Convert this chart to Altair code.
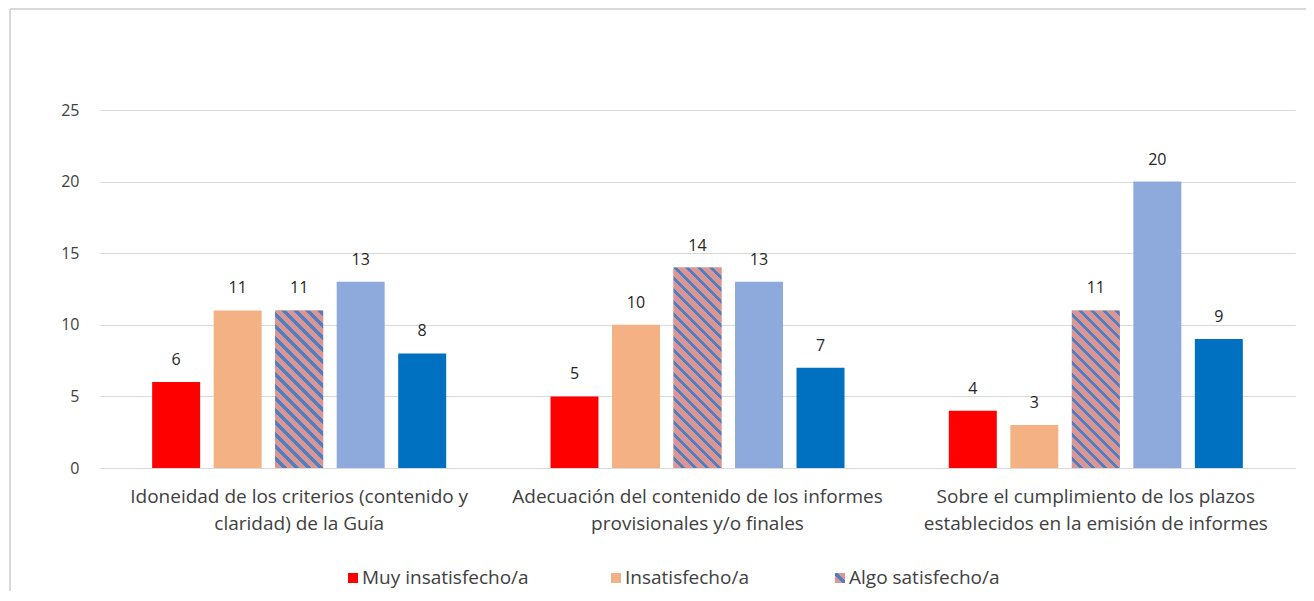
import altair as alt
import pandas as pd

# ---------------- data ----------------
categorias = [
    "Idoneidad de los criterios (contenido y\nclaridad) de la Guía",
    "Adecuación del contenido de los informes\nprovisionales y/o finales",
    "Sobre el cumplimiento de los plazos\nestablecidos en la emisión de informes",
]
series = ["Muy insatisfecho/a", "Insatisfecho/a", "Algo satisfecho/a",
          "Bastante satisfecho/a", "Muy satisfecho/a"]
muy_insatisfecho = [6, 5, 4]
insatisfecho = [11, 10, 3]
algo_satisfecho = [11, 14, 11]
bastante_satisfecho = [13, 13, 20]
muy_satisfecho = [8, 7, 9]
ticks_y = [0, 5, 10, 15, 20, 25]

colores = ["#FF0000", "#F4B183", "#DA9694", "#8EA9DB", "#0070C0"]
rosa = "#DA9694"
azul_raya = "#4F7FC0"

valores = [muy_insatisfecho, insatisfecho, algo_satisfecho, bastante_satisfecho, muy_satisfecho]
rows = []
for s, vals in zip(series, valores):
    for c, v in zip(categorias, vals):
        rows.append({"cat": c, "serie": s, "valor": v})
df = pd.DataFrame(rows)

# ---------------- layout ----------------
W, H = 1195, 358
YMAX = 25
PX = H / YMAX
band = W / len(categorias)
pi_off, po_off = 0.22, 0.848
step_off = band / (len(series) - pi_off + 2 * po_off)
BAR_W = step_off * (1 - pi_off)


def rayado(h_px, w_px=BAR_W, periodo=12.0, frac=0.36):
    r = h_px / w_px
    t = (w_px + h_px) / (w_px * (1 + r * r))
    total = w_px + h_px
    stops = []
    s = 0.0
    while s < total:
        o0 = s / total
        o1 = min((s + periodo * (1 - frac)) / total, 1.0)
        o2 = min((s + periodo) / total, 1.0)
        stops += [{"offset": o0, "color": rosa}, {"offset": o1, "color": rosa},
                  {"offset": o1, "color": azul_raya}, {"offset": o2, "color": azul_raya}]
        s += periodo
    return {"gradient": "linear", "x1": 0, "y1": 1, "x2": t, "y2": 1 - t * r, "stops": stops}


simbolo_rayado = {"gradient": "linear", "x1": 0, "y1": 1, "x2": 1, "y2": 0,
                  "stops": [{"offset": 0, "color": rosa}, {"offset": 0.36, "color": rosa},
                            {"offset": 0.36, "color": azul_raya}, {"offset": 0.64, "color": azul_raya},
                            {"offset": 0.64, "color": rosa}, {"offset": 1, "color": rosa}]}

FONT = "Open Sans"
GRIS = "#404040"

x_enc = alt.X("cat:N", sort=categorias,
              scale=alt.Scale(paddingInner=0, paddingOuter=0),
              axis=alt.Axis(title=None, labelAngle=0, ticks=False, domain=False,
                            labelExpr="split(datum.label, '\\n')",
                            labelFont=FONT, labelFontSize=19, labelColor=GRIS,
                            labelPadding=19, labelLineHeight=27, labelLimit=600))
xo_enc = alt.XOffset("serie:N", sort=series,
                     scale=alt.Scale(paddingInner=pi_off, paddingOuter=po_off))
y_enc = alt.Y("valor:Q", scale=alt.Scale(domain=[0, YMAX], nice=False),
              axis=alt.Axis(values=ticks_y, title=None, domain=False, ticks=False,
                            gridColor="#D9D9D9", gridWidth=1.2,
                            labelFont=FONT, labelFontSize=16, labelColor=GRIS,
                            labelPadding=21))

base = alt.Chart(df).mark_bar().encode(
    x=x_enc, xOffset=xo_enc, y=y_enc,
    color=alt.Color("serie:N", scale=alt.Scale(domain=series, range=colores), legend=None),
)

capas = [base]
for c, v in zip(categorias, algo_satisfecho):
    capas.append(
        alt.Chart(df).transform_filter(
            (alt.datum.serie == series[2]) & (alt.datum.cat == c)
        ).mark_bar().encode(x=x_enc, xOffset=xo_enc, y=y_enc,
                            fill=alt.value(rayado(v * PX)))
    )

etiquetas = alt.Chart(df).mark_text(
    baseline="middle", dy=-22, font=FONT, fontSize=16, color="#262626"
).encode(x=x_enc, xOffset=xo_enc, y=y_enc, text="valor:Q")
capas.append(etiquetas)

uno = pd.DataFrame({"k": [0]})

# manual legend (first row of the legend, as visible in the reference)
leg_x = [248, 511, 735]
leg_y = 468
leg_fills = [colores[0], colores[1], simbolo_rayado]
for lx, nombre, f in zip(leg_x, series[:3], leg_fills):
    capas.append(alt.Chart(uno).mark_rect().encode(
        x=alt.value(lx), x2=alt.value(lx + 10),
        y=alt.value(leg_y - 5), y2=alt.value(leg_y + 5),
        fill=alt.value(f)))
    capas.append(alt.Chart(uno).mark_text(
        align="left", baseline="middle", font=FONT, fontSize=19, color=GRIS
    ).encode(x=alt.value(lx + 14), y=alt.value(leg_y), text=alt.value(nombre)))

marco = alt.Chart(uno).mark_rule(color="#D9D9D9", strokeWidth=2)
capas.append(marco.encode(x=alt.value(-90), y=alt.value(-101), y2=alt.value(H + 140)))
capas.append(marco.encode(x=alt.value(-90), x2=alt.value(W + 20), y=alt.value(-101)))

chart = alt.layer(*capas).properties(
    width=W, height=H,
    padding={"left": 92, "top": 102, "right": 11, "bottom": 123},
    autosize=alt.AutoSizeParams(type="none"),
).configure_view(stroke=None)

chart.save("out.html", embed_options={"renderer": "svg", "actions": False})
